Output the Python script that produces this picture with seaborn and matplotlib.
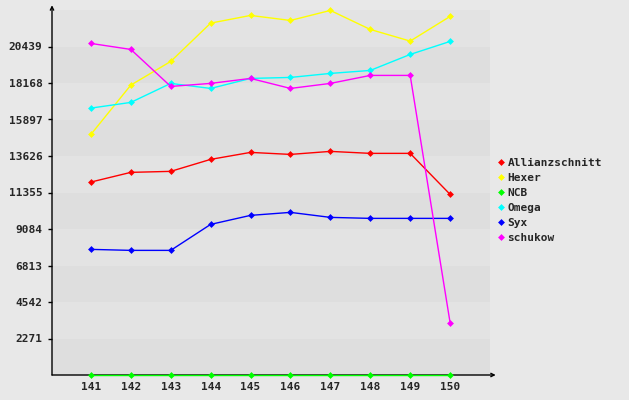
import matplotlib
matplotlib.use('Agg')
import matplotlib.pyplot as plt
import pandas as pd
import seaborn as sns
from matplotlib.lines import Line2D

# Data
rounds = [141, 142, 143, 144, 145, 146, 147, 148, 149, 150]
allianzschnitt = [12005, 12608, 12670, 13416, 13850, 13725, 13913, 13790, 13790, 11238]
hexer = [14970, 18038, 19510, 21894, 22372, 22060, 22683, 21500, 20775, 22310]
ncb = [0, 0, 0, 0, 0, 0, 0, 0, 0, 0]
omega = [16607, 16960, 18143, 17830, 18453, 18515, 18764, 18950, 19945, 20755]
syx = [7816, 7754, 7754, 9371, 9932, 10118, 9807, 9745, 9745, 9745]
schukow = [20630, 20257, 17955, 18143, 18453, 17830, 18143, 18640, 18640, 3255]
yticks = [2271, 4542, 6813, 9084, 11355, 13626, 15897, 18168, 20439]

names = ['Allianzschnitt', 'Hexer', 'NCB', 'Omega', 'Syx', 'schukow']
colors = ['#ff0000', '#ffff00', '#00ff00', '#00ffff', '#0000ff', '#ff00ff']


def main():
    sns.set_style('white')
    plt.rcParams['font.family'] = ['DejaVu Sans Mono']
    plt.rcParams['font.weight'] = 'bold'
    plt.rcParams['font.size'] = 8

    series = [allianzschnitt, hexer, ncb, omega, syx, schukow]
    rows = []
    for name, vals in zip(names, series):
        for r, v in zip(rounds, vals):
            rows.append([r, v, name])
    df = pd.DataFrame(rows, columns=['round', 'value', 'name'])

    fig = plt.figure(figsize=(6.29, 4.0), dpi=100, facecolor='#e8e8e8')
    ax = fig.add_axes([52 / 629, 25 / 400, 438 / 629, 365 / 400])
    ax.set_facecolor('#e8e8e8')

    top = 2271 * 10
    # alternating bands
    edges = [0] + yticks + [top]
    for i in range(len(edges) - 1):
        c = '#dedede' if i % 2 == 0 else '#e3e3e3'
        ax.axhspan(edges[i], edges[i + 1], color=c, lw=0, zorder=0)

    sns.lineplot(data=df, x='round', y='value', hue='name', hue_order=names,
                 palette=colors, marker='D', markersize=3.5, markeredgewidth=0,
                 linewidth=1, legend=False, ax=ax)
    for ln in ax.lines:
        ln.set_clip_on(False)
        ln.set_zorder(5)

    ax.set_xlim(140.025, 151)
    ax.set_ylim(0, top)
    ax.set_xticks(rounds)
    ax.set_xticklabels([str(r) for r in rounds])
    ax.set_yticks(yticks)
    ax.set_yticklabels([str(t) for t in yticks])
    ax.tick_params(axis='x', length=0, pad=5)
    ax.tick_params(axis='y', length=3, width=1, pad=4, color='black', left=True)
    ax.set_xlabel('')
    ax.set_ylabel('')
    for s in ax.spines.values():
        s.set_visible(False)

    # axis arrows
    for tip in [(0, 1.013), (1.013, 0)]:
        ax.annotate('', xy=tip, xytext=(0, 0), xycoords='axes fraction',
                    arrowprops=dict(arrowstyle='->', lw=1, color='black',
                                    shrinkA=0, shrinkB=0, mutation_scale=6),
                    annotation_clip=False, zorder=2)

    handles = [Line2D([], [], color=c, marker='D', markersize=3.5,
                      markeredgewidth=0, linestyle='') for c in colors]
    fig.legend(handles, names, loc='upper left', bbox_to_anchor=(492 / 629, 1 - 152 / 400),
               frameon=False, handlelength=0.6, handletextpad=0.3,
               labelspacing=0.45, borderpad=0, fontsize=8)

    fig.savefig('out.png', dpi=100, facecolor=fig.get_facecolor())


if __name__ == "__main__":
    main()
